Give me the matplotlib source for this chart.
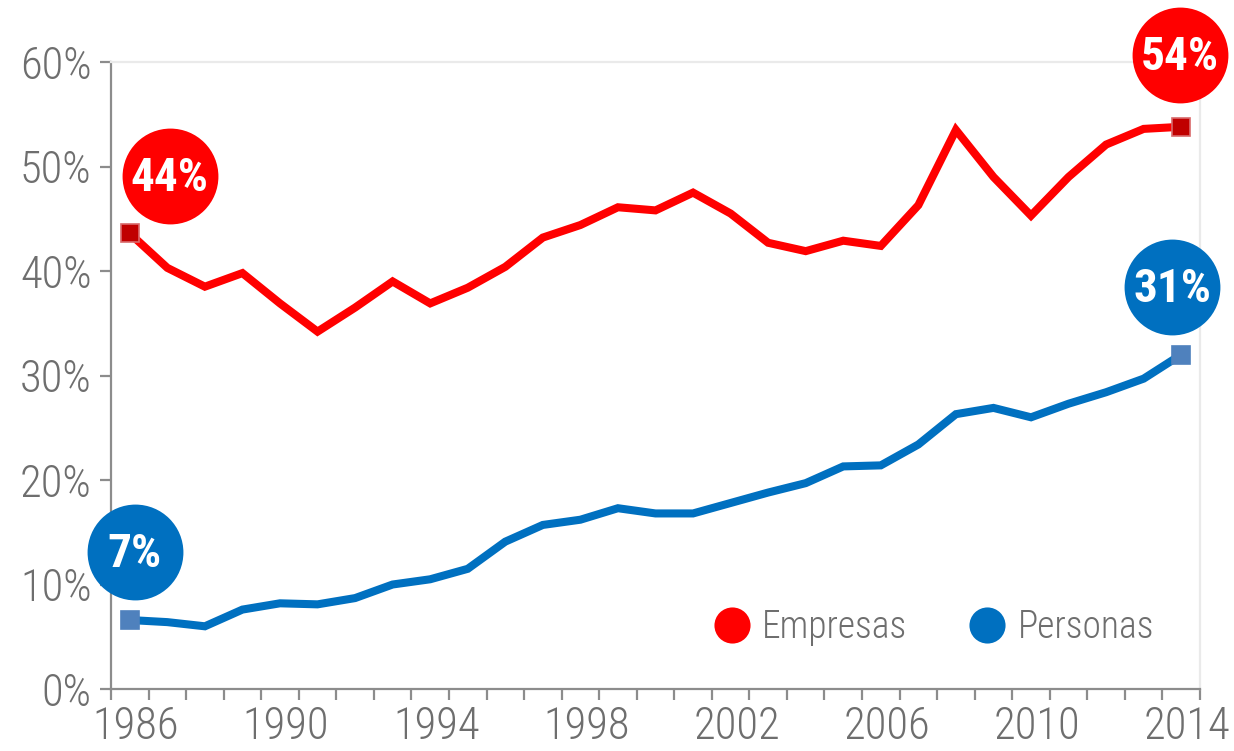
import matplotlib
matplotlib.use("Agg")
import matplotlib.pyplot as plt
from matplotlib import font_manager
from matplotlib.transforms import ScaledTranslation
from matplotlib.lines import Line2D

# ---------------- data ----------------
years = list(range(1986, 2015))
empresas = [43.6, 40.3, 38.5, 39.8, 36.9, 34.2, 36.5, 39.0, 36.9, 38.4,
            40.4, 43.2, 44.4, 46.1, 45.8, 47.5, 45.5, 42.7, 41.9, 42.9,
            42.4, 46.3, 53.5, 49.0, 45.3, 49.0, 52.1, 53.6, 53.8]
personas = [6.6, 6.4, 6.0, 7.6, 8.2, 8.1, 8.7, 10.0, 10.5, 11.5,
            14.1, 15.7, 16.2, 17.3, 16.8, 16.8, 17.8, 18.8, 19.7, 21.3,
            21.4, 23.4, 26.3, 26.9, 26.0, 27.3, 28.4, 29.7, 32.0]
series_names = ["Empresas", "Personas"]
badge_empresas = ["44%", "54%"]
badge_personas = ["7%", "31%"]
y_ticks = [0, 10, 20, 30, 40, 50, 60]
y_ticklabels = ["0%", "10%", "20%", "30%", "40%", "50%", "60%"]
x_label_years = [1986, 1990, 1994, 1998, 2002, 2006, 2010, 2014]

# ---------------- fonts ----------------
names = {f.name for f in font_manager.fontManager.ttflist}
def pick(cands):
    for c in cands:
        if c in names:
            return c
    return "DejaVu Sans"
narrow = pick(["Roboto Condensed", "Liberation Sans Narrow", "Open Sans Condensed",
               "Noto Sans Condensed", "DejaVu Sans"])
plt.rcParams["font.family"] = [narrow, "DejaVu Sans"]

RED = "#FF0000"
BLUE = "#0070C0"
GREY = "#6E6E6E"

fig = plt.figure(figsize=(12.34, 7.51), dpi=100)
ax = fig.add_axes([111/1234, 1-689/751, (1200-111)/1234, (689-62)/751])

ax.plot(years, empresas, color=RED, lw=5.8, solid_joinstyle="miter", zorder=3)
ax.plot(years, personas, color=BLUE, lw=5.8, solid_joinstyle="miter", zorder=3)

# end markers
for ser, fc, ec in [(empresas, "#C00000", "#D9696B"), (personas, "#4F81BD", "#4F81BD")]:
    ax.plot([years[0], years[-1]], [ser[0], ser[-1]], ls="none", marker="s", ms=13,
            mfc=fc, mec=ec, mew=1.2, zorder=4)

ax.set_xlim(1985.5, 2014.5)
ax.set_ylim(0, 60)

# badges placed relative to endpoints (pixel offsets)
def badge(x, y, dx, dy, text, color):
    tr = ax.transData + ScaledTranslation(dx/100, dy/100, fig.dpi_scale_trans)
    ax.plot([x], [y], marker="o", ms=69, mfc=color, mec="none", ls="none",
            transform=tr, clip_on=False, zorder=5)
    ax.text(x, y - 0.2, text, transform=tr, color="white", fontsize=34, fontweight="bold",
            ha="center", va="center", zorder=6, clip_on=False)

badge(years[0], empresas[0], 40, 57, badge_empresas[0], RED)
badge(years[-1], empresas[-1], -1, 72, badge_empresas[1], RED)
badge(years[0], personas[0], 5, 68, badge_personas[0], BLUE)
badge(years[-1], personas[-1], -9, 68, badge_personas[1], BLUE)

# axes styling
for s in ["left", "bottom"]:
    ax.spines[s].set_color("#8C8C8C")
    ax.spines[s].set_linewidth(1.6)
for s in ["top", "right"]:
    ax.spines[s].set_color("#EAEAEA")
    ax.spines[s].set_linewidth(1.6)

ax.set_yticks(y_ticks)
ax.set_yticklabels(y_ticklabels)
ax.tick_params(axis="y", length=8, width=1.6, color="#8C8C8C", labelsize=32,
               labelcolor=GREY, pad=6)

ax.set_xticks(x_label_years)
ax.set_xticklabels([str(y) for y in x_label_years])
ax.set_xticks([y - 0.5 for y in years] + [years[-1] + 0.5], minor=True)
ax.tick_params(axis="x", which="major", length=0, labelsize=32, labelcolor=GREY, pad=12)
ax.tick_params(axis="x", which="minor", length=8, width=1.6, color="#8C8C8C")
off = ScaledTranslation(6/100, 0, fig.dpi_scale_trans)
for lab in ax.get_xticklabels():
    lab.set_transform(lab.get_transform() + off)
for lab in ax.get_xticklabels() + ax.get_yticklabels():
    lab.set_fontweight("light")

handles = [Line2D([], [], ls="none", marker="o", ms=26, mfc=RED, mec="none"),
           Line2D([], [], ls="none", marker="o", ms=26, mfc=BLUE, mec="none")]
leg = ax.legend(handles, series_names, loc="center", bbox_to_anchor=(0.756, 0.098),
                ncol=2, frameon=False, fontsize=27, handlelength=0.9,
                handletextpad=0.35, columnspacing=1.7, labelcolor=GREY)
for t in leg.get_texts():
    t.set_fontweight("light")

fig.savefig("out.png", dpi=100)
